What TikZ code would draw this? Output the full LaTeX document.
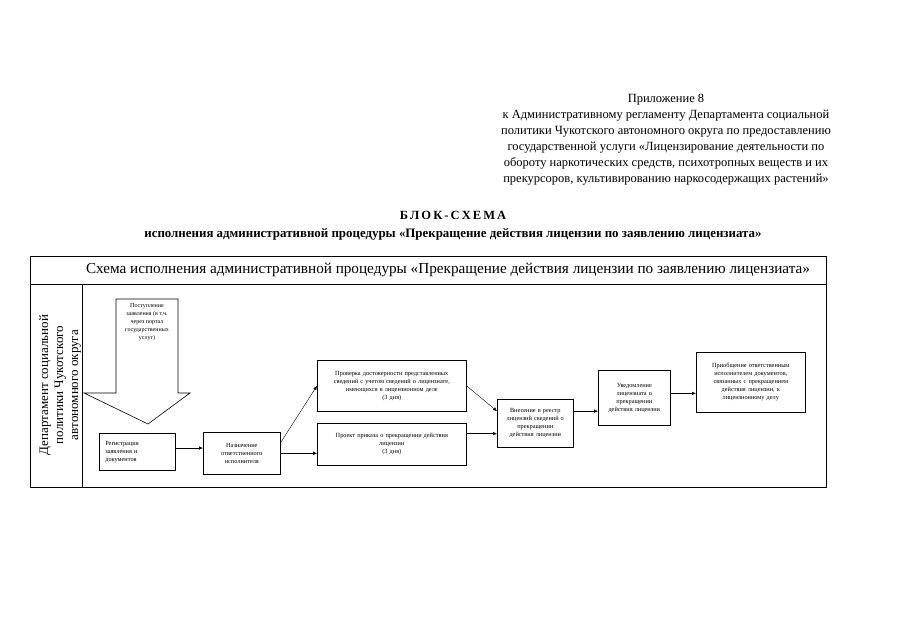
\documentclass[tikz,border=0pt]{standalone}
\usepackage{fontspec}
\setmainfont{Liberation Serif}
\usetikzlibrary{positioning}
\usetikzlibrary{calc}
\usetikzlibrary{arrows.meta}

\begin{document}
\begin{tikzpicture}[x=1pt, y=-1pt,
    stage/.style={draw, semithick, inner sep=1pt, font=\fontsize{6.3}{8}\selectfont, align=center},
    flow/.style={-{Latex[length=4pt,width=3.5pt]}, thin}]
    \useasboundingbox (0,0) rectangle (905,640);
    % header
    \node[align=center, font=\fontsize{12.5}{16}\selectfont] (app) at (666,140)
        {Приложение 8\\
         к Административному регламенту Департамента социальной\\
         политики Чукотского автономного округа по предоставлению\\
         государственной услуги «Лицензирование деятельности по\\
         обороту наркотических средств, психотропных веществ и их\\
         прекурсоров, культивированию наркосодержащих растений»};
    \node[font=\fontsize{12.5}{15}\selectfont\bfseries] (title) at (453,215) {Б\,Л\,О\,К\,-\,С\,Х\,Е\,М\,А};
    \node[font=\fontsize{12.9}{15}\selectfont\bfseries] (subtitle) at (453,234)
        {исполнения административной процедуры «Прекращение действия лицензии по заявлению лицензиата»};
    % frame
    \draw[semithick] (30,256) rectangle (826,487);
    \draw[semithick] (30,284) -- (826,284);
    \draw[semithick] (82,284) -- (82,487);
    \node[font=\fontsize{15.2}{17}\selectfont] (head) at (448,270)
        {Схема исполнения административной процедуры «Прекращение действия лицензии по заявлению лицензиата»};
    \node[rotate=90, align=center, font=\fontsize{13}{15}\selectfont] (dept) at (60,385)
        {Департамент социальной\\политики Чукотского\\автономного округа};
    % incoming arrow
    \draw[semithick] (116,299) -- (178,299) -- (178,393) -- (190,393) -- (148,424)
        -- (84,393) -- (116,393) -- cycle;
    \node[align=center, font=\fontsize{6}{8}\selectfont] (inc) at (147,322)
        {Поступление\\заявления (в т.ч.\\через портал\\государственных\\услуг)};
    % stages
    \node[stage, minimum width=76pt, minimum height=37pt, align=left, anchor=north west,
          text width=64pt] (reg) at (99,433)
        {Регистрация\\заявления и\\документов};
    \node[stage, minimum width=77pt, minimum height=42pt, anchor=north west,
          text width=70pt] (nazn) at (203,432)
        {Назначение\\ответственного\\исполнителя\\[8pt]};
    \node[stage, minimum width=149pt, minimum height=51pt, anchor=north west,
          text width=144pt] (prov) at (317,360)
        {Проверка достоверности представленных\\сведений с учетом сведений о лицензиате,\\имеющихся в лицензионном деле\\(3 дня)\\[10pt]};
    \node[stage, minimum width=149pt, minimum height=42pt, anchor=north west,
          text width=144pt] (proekt) at (317,423)
        {Проект приказа о прекращении действия\\лицензии\\(3 дня)\\[9pt]};
    \node[stage, minimum width=76pt, minimum height=48pt, anchor=north west,
          text width=72pt] (reestr) at (497,399)
        {Внесение в реестр\\лицензий сведений о\\прекращении\\действия лицензии\\[6pt]};
    \node[stage, minimum width=72pt, minimum height=55pt, anchor=north west,
          text width=70pt] (uved) at (598,370)
        {Уведомление\\лицензиата о\\прекращении\\действия лицензии\\[12pt]};
    \node[stage, minimum width=109pt, minimum height=60pt, anchor=north west,
          text width=104pt] (priob) at (696,352)
        {Приобщение ответственным\\исполнителем документов,\\связанных с прекращением\\действия лицензии, к\\лицензионному делу\\[14pt]};
    % connectors
    \draw[flow] ($(reg.north east)!0.4!(reg.south east)$) coordinate (r1)
        -- (r1 -| nazn.west);
    \draw[flow] ($(nazn.north east)!0.25!(nazn.south east)$) -- (prov.west);
    \draw[flow] ($(nazn.north east)!0.5!(nazn.south east)$) coordinate (n2)
        -- (n2 -| proekt.west);
    \draw[flow] (prov.east) -- ($(reestr.north west)!0.25!(reestr.south west)$);
    \draw[flow] ($(proekt.north east)!0.25!(proekt.south east)$) coordinate (p1)
        -- (p1 -| reestr.west);
    \draw[flow] ($(reestr.north east)!0.25!(reestr.south east)$) coordinate (e1)
        -- (e1 -| uved.west);
    \draw[flow] ($(uved.north east)!0.42!(uved.south east)$) coordinate (u1)
        -- (u1 -| priob.west);
\end{tikzpicture}
\end{document}
